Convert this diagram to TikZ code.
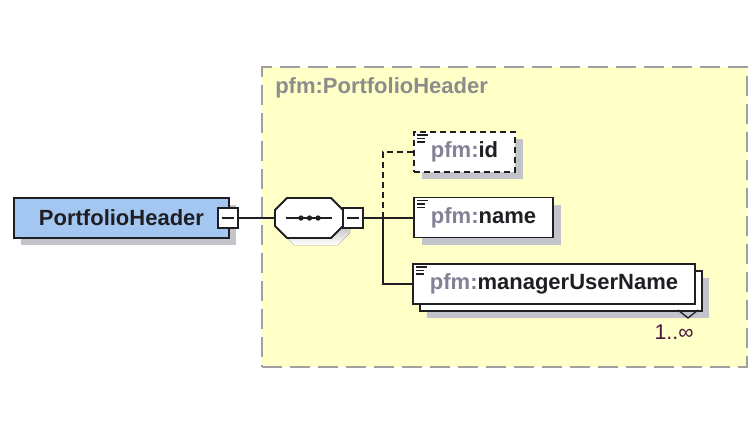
\documentclass[tikz,border=0pt]{standalone}
\usepackage{fontspec}
\setmainfont{Liberation Sans}
\usetikzlibrary{shadows,fit,calc}
\definecolor{rootblue}{RGB}{163,199,240}
\definecolor{shade}{RGB}{195,195,202}
\definecolor{grpfill}{RGB}{255,255,200}
\definecolor{grpline}{RGB}{160,160,160}
\definecolor{nsgray}{RGB}{130,130,150}
\definecolor{grptext}{RGB}{140,140,140}
\definecolor{occcol}{RGB}{70,20,60}
\definecolor{ink}{RGB}{30,30,35}
\begin{document}
\begin{tikzpicture}[x=0.75pt,y=-0.75pt,
  font=\fontsize{16.5}{19}\selectfont\bfseries,
  elembox/.style={draw=ink, line width=1.4pt, fill=white, inner xsep=12.75pt, inner ysep=0pt,
    minimum height=30pt, anchor=west, text=ink,
    drop shadow={shadow xshift=6pt, shadow yshift=-5.5pt, fill=shade, opacity=1}},
  rootbox/.style={draw=ink, line width=1.4pt, fill=rootblue, minimum width=161.25pt,
    minimum height=30pt, inner sep=0pt, text=ink,
    drop shadow={shadow xshift=5.25pt, shadow yshift=-5.25pt, fill=shade, opacity=1}},
  minusbox/.style={draw=ink, fill=white, line width=1.1pt, minimum size=15pt, inner sep=0pt,
    path picture={\draw[line width=1pt,ink] ([xshift=-4.5pt]path picture bounding box.center) -- ([xshift=4.5pt]path picture bounding box.center);}},
  conn/.style={draw=ink, line width=1.1pt},
  dashconn/.style={draw=ink, line width=1.1pt, dash pattern=on 4.5pt off 3pt},
  grpbox/.style={draw=grpline, fill=grpfill, line width=1.4pt, dash pattern=on 15pt off 6pt, inner sep=0pt},
  iconline/.style={draw=ink, line width=0.9pt}
]
\useasboundingbox (0,0) rectangle (753,440);
\fill[white] (0,0) rectangle (753,440);

% container
\node[grpbox, fit={(262,67)(747,367)}] (grp) {};
\node[anchor=west, text=grptext, inner sep=0pt] (grplabel) at (275,88) {pfm:PortfolioHeader};

% anchors
\node[inner sep=0pt, minimum width=51pt, minimum height=30pt] (seq) at (309,218) {};
\coordinate (trunk) at (383,218);

% connectors
\draw[conn] (228,218) -- (seq.west);
\draw[conn] (seq.east) -- (trunk);
\draw[conn] (trunk) -- (413,218);
\draw[conn] (trunk) |- (413,284);
\draw[dashconn] (trunk) |- (413,152);

% root
\node[rootbox] (root) at (121.5,218) {PortfolioHeader};
\node[minusbox] (rminus) at (228,218) {};

% sequence compositor (octagon)
\fill[shade] ($(275,210)+(7,7)$) -- ($(287,198)+(7,7)$) -- ($(331,198)+(7,7)$) -- ($(343,210)+(7,7)$)
  -- ($(343,226)+(7,7)$) -- ($(331,238)+(7,7)$) -- ($(287,238)+(7,7)$) -- ($(275,226)+(7,7)$) -- cycle;
\draw[draw=ink, line width=1.4pt, fill=white] (275,210) -- (287,198) -- (331,198) -- (343,210)
  -- (343,226) -- (331,238) -- (287,238) -- (275,226) -- cycle;
\draw[conn] (286,218) -- (332,218);
\fill[ink] (301,218) circle (2pt) (309.5,218) circle (2pt) (318,218) circle (2pt);
\node[minusbox] (sminus) at (353,218) {};

% elements
\node[elembox, dash pattern=on 4.5pt off 3pt] (id) at (413,152) {\textcolor{nsgray}{pfm:}id};
\node[elembox] (name) at (413,217.5) {\textcolor{nsgray}{pfm:}name};
\node[elembox, drop shadow={shadow xshift=10.5pt, shadow yshift=-10.5pt, fill=shade, opacity=1},
  copy shadow={shadow xshift=5.25pt, shadow yshift=-5.25pt, fill=white, draw=ink, line width=1.4pt}]
  (mgr) at (412,284) {\textcolor{nsgray}{pfm:}managerUserName};

% text icons
\foreach \n in {id,name,mgr}{
  \draw[iconline] ($(\n.north west)+(4,4)$) -- ++(11,0);
  \draw[iconline] ($(\n.north west)+(4,7.5)$) -- ++(8,0);
  \draw[iconline] ($(\n.north west)+(4,11)$) -- ++(8,0);
}

% occurrence
\draw[ink, line width=1pt] (678,310) -- (688,318) -- (698,310);
\node[text=occcol, font=\fontsize{16}{19}\selectfont, inner sep=0pt] (occ) at (674,332) {1..∞};
\end{tikzpicture}
\end{document}
